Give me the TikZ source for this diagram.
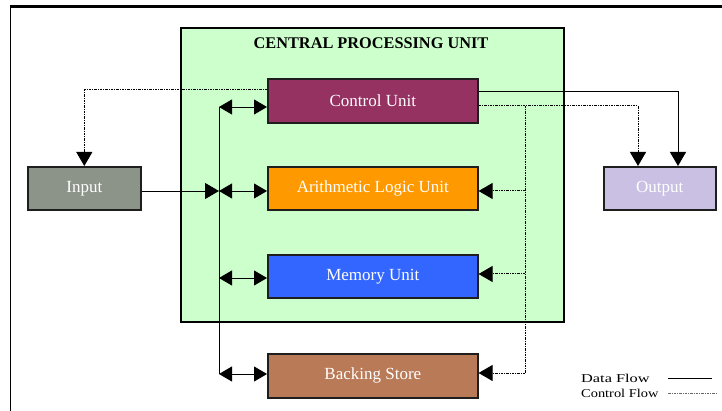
\documentclass[tikz,border=0pt]{standalone}
\usepackage{fontspec}
\usepackage{graphicx}
\setmainfont{Liberation Serif}
\usetikzlibrary{arrows.meta}
\definecolor{cpugreen}{HTML}{CCFFCC}
\definecolor{cucol}{HTML}{953262}
\definecolor{alucol}{HTML}{FF9900}
\definecolor{memcol}{HTML}{3366FF}
\definecolor{bscol}{HTML}{B97A57}
\definecolor{incol}{HTML}{8C9489}
\definecolor{outcol}{HTML}{C9C0E3}
\definecolor{edgecol}{HTML}{1E1E1E}
\tikzset{
  unitbox/.style={draw=edgecol, line width=1.6pt, anchor=north west, inner sep=0pt,
    text=white, font=\fontsize{17}{20}\selectfont, minimum height=43pt},
  data/.style={line width=0.9pt, draw=black},
  ctrl/.style={line width=1pt, draw=black, dash pattern={on 2.5pt off 1pt on 1pt off 1pt}},
  tip/.style={-{Triangle[length=14pt,width=16pt]}},
  dtip/.style={{Triangle[length=13pt,width=15pt]}-{Triangle[length=13pt,width=15pt]}},
  legendtext/.style={anchor=west, inner sep=0pt, font=\fontsize{12}{14}\selectfont}
}
\begin{document}
\begin{tikzpicture}[x=1pt,y=-1pt]
\useasboundingbox (0,0) rectangle (722,411);
% outer frame
\draw[line width=3pt] (9.8,6.5) -- (722,6.5);
\draw[line width=1.5pt] (10.5,6.5) -- (10.5,411);
% CPU
\node[draw=black, line width=2pt, fill=cpugreen, anchor=north west, inner sep=0pt,
  minimum width=383pt, minimum height=294pt] (cpu) at (180,27) {};
\node[font=\bfseries\fontsize{16.3}{19}\selectfont, inner sep=0pt] (title) at (371,43) {CENTRAL PROCESSING UNIT};
% units
\node[unitbox, fill=cucol, minimum width=210pt, minimum height=44pt] (cu) at (267,78) {Control Unit};
\node[unitbox, fill=alucol, minimum width=210pt] (alu) at (267,166) {Arithmetic Logic Unit};
\node[unitbox, fill=memcol, minimum width=210pt] (mem) at (267,254) {Memory Unit};
\node[unitbox, fill=bscol, minimum width=210pt, minimum height=44pt] (bs) at (267,353) {Backing Store};
\node[unitbox, fill=incol, minimum width=113pt] (in) at (27,166) {Input};
\node[unitbox, fill=outcol, minimum width=112pt] (out) at (603,166) {Output};
% data bus
\coordinate (b1) at (219,107);
\coordinate (b2) at (219,191);
\coordinate (b3) at (219,278);
\coordinate (b4) at (219,374);
\draw[data] (b1) -- (b4);
\draw[data,dtip] (b1) -- (cu.west |- b1);
\draw[data,dtip] (b2) -- (alu.west |- b2);
\draw[data,dtip] (b3) -- (mem.west |- b3);
\draw[data,dtip] (b4) -- (bs.west |- b4);
\draw[data,tip] (in.east |- b2) -- (b2);
% control unit to output (data)
\coordinate (c1) at (678,91);
\draw[data,tip] (cu.east |- c1) -| (out.north -| c1);
% control flow
\coordinate (d0) at (84,90);
\draw[ctrl,tip] (cu.west |- d0) -| (in.north);
\coordinate (d1) at (638,106);
\draw[ctrl,tip] (cu.east |- d1) -| (out.north -| d1);
\coordinate (v0) at (525,106);
\coordinate (v1) at (525,191);
\coordinate (v2) at (525,274);
\coordinate (v3) at (525,373);
\draw[ctrl] (v0) -- (v3);
\draw[ctrl,tip] (v1) -- (alu.east |- v1);
\draw[ctrl,tip] (v2) -- (mem.east |- v2);
\draw[ctrl,tip] (v3) -- (bs.east |- v3);
% legend
\node[legendtext] (l1) at (581,378) {\scalebox{1.36}[1]{Data Flow}};
\node[legendtext] (l2) at (581,393) {\scalebox{1.2}[1]{Control Flow}};
\coordinate (ld1) at (668,378);
\coordinate (ld2) at (712,378);
\coordinate (lc1) at (668,393);
\coordinate (lc2) at (716,393);
\draw[data] (ld1) -- (ld2);
\draw[ctrl, line width=0.8pt, draw=black!60] (lc1) -- (lc2);
\end{tikzpicture}
\end{document}
